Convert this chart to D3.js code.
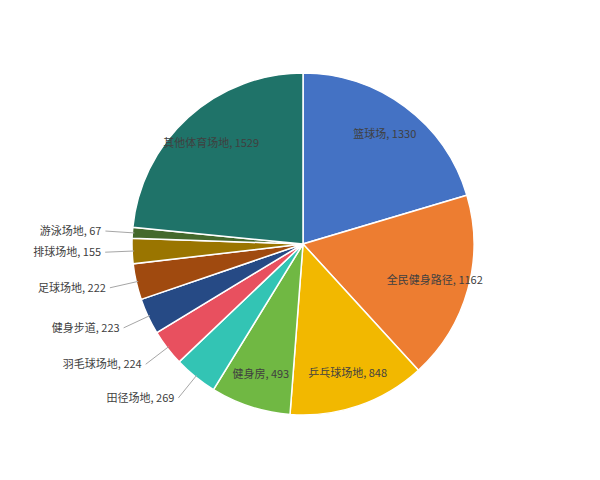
<!DOCTYPE html>
<html>
<head>
<meta charset="utf-8">
<script src="https://cdn.jsdelivr.net/npm/d3@7"></script>
<style>
  body { margin: 0; background: #fff; }
  svg text { font-family: "Noto Sans CJK SC", "Noto Sans", sans-serif; }
</style>
</head>
<body>
<div id="chart"></div>
<script>
// 场地类型（顺时针，从12点方向开始）
const names = ['篮球场', '全民健身路径', '乒乓球场地', '健身房', '田径场地', '羽毛球场地',
               '健身步道', '足球场地', '排球场地', '游泳场地', '其他体育场地'];
const counts = [1330, 1162, 848, 493, 269, 224, 223, 222, 155, 67, 1529];
const colors = ['#4472c4', '#ed7d31', '#f2b800', '#70b843', '#33c4b4', '#e8505f',
                '#264a85', '#a04a0f', '#9a7500', '#44692c', '#1f7369'];
// 标签放在扇区外的类别
const outside = ['田径场地', '羽毛球场地', '健身步道', '足球场地', '排球场地', '游泳场地'];

const width = 600, height = 480;
const cx = 303, cy = 244, radius = 171;

const dataset = names.map((n, i) => ({name: n, value: counts[i], color: colors[i]}));

const svg = d3.select('#chart').append('svg')
  .attr('width', width).attr('height', height);

const g = svg.append('g').attr('transform', 'translate(' + cx + ',' + cy + ')');

const pie = d3.pie().value(d => d.value).sort(null);
const arc = d3.arc().innerRadius(0).outerRadius(radius);
const arcs = pie(dataset);

g.selectAll('.slice')
  .data(arcs)
  .enter()
  .append('path')
  .attr('class', 'slice')
  .attr('d', arc)
  .attr('fill', d => d.data.color)
  .attr('stroke', '#fff')
  .attr('stroke-width', 1.5);

// 扇区内的标签
const inLabel = d3.arc().innerRadius(radius * 0.8).outerRadius(radius * 0.8);
g.selectAll('.in-label')
  .data(arcs.filter(d => outside.indexOf(d.data.name) < 0))
  .enter()
  .append('text')
  .attr('class', 'in-label')
  .attr('transform', d => 'translate(' + inLabel.centroid(d) + ')')
  .attr('dy', '0.35em')
  .attr('text-anchor', 'middle')
  .attr('font-size', 11)
  .attr('fill', '#404040')
  .text(d => d.data.name + ', ' + d.data.value);

// 扇区外的标签和引导线
const edge = d3.arc().innerRadius(radius - 2).outerRadius(radius - 2);
const lineEnd = d3.arc().innerRadius(radius + 27).outerRadius(radius + 27);
const outArcs = arcs.filter(d => outside.indexOf(d.data.name) > -1);

g.selectAll('.leader')
  .data(outArcs)
  .enter()
  .append('line')
  .attr('class', 'leader')
  .attr('x1', d => edge.centroid(d)[0])
  .attr('y1', d => edge.centroid(d)[1])
  .attr('x2', d => lineEnd.centroid(d)[0])
  .attr('y2', d => lineEnd.centroid(d)[1])
  .attr('stroke', '#a6a6a6')
  .attr('stroke-width', 1);

g.selectAll('.out-label')
  .data(outArcs)
  .enter()
  .append('text')
  .attr('class', 'out-label')
  .attr('x', d => lineEnd.centroid(d)[0] - 4)
  .attr('y', d => lineEnd.centroid(d)[1])
  .attr('dy', '0.35em')
  .attr('text-anchor', 'end')
  .attr('font-size', 11)
  .attr('fill', '#404040')
  .text(d => d.data.name + ', ' + d.data.value);
</script>
</body>
</html>
